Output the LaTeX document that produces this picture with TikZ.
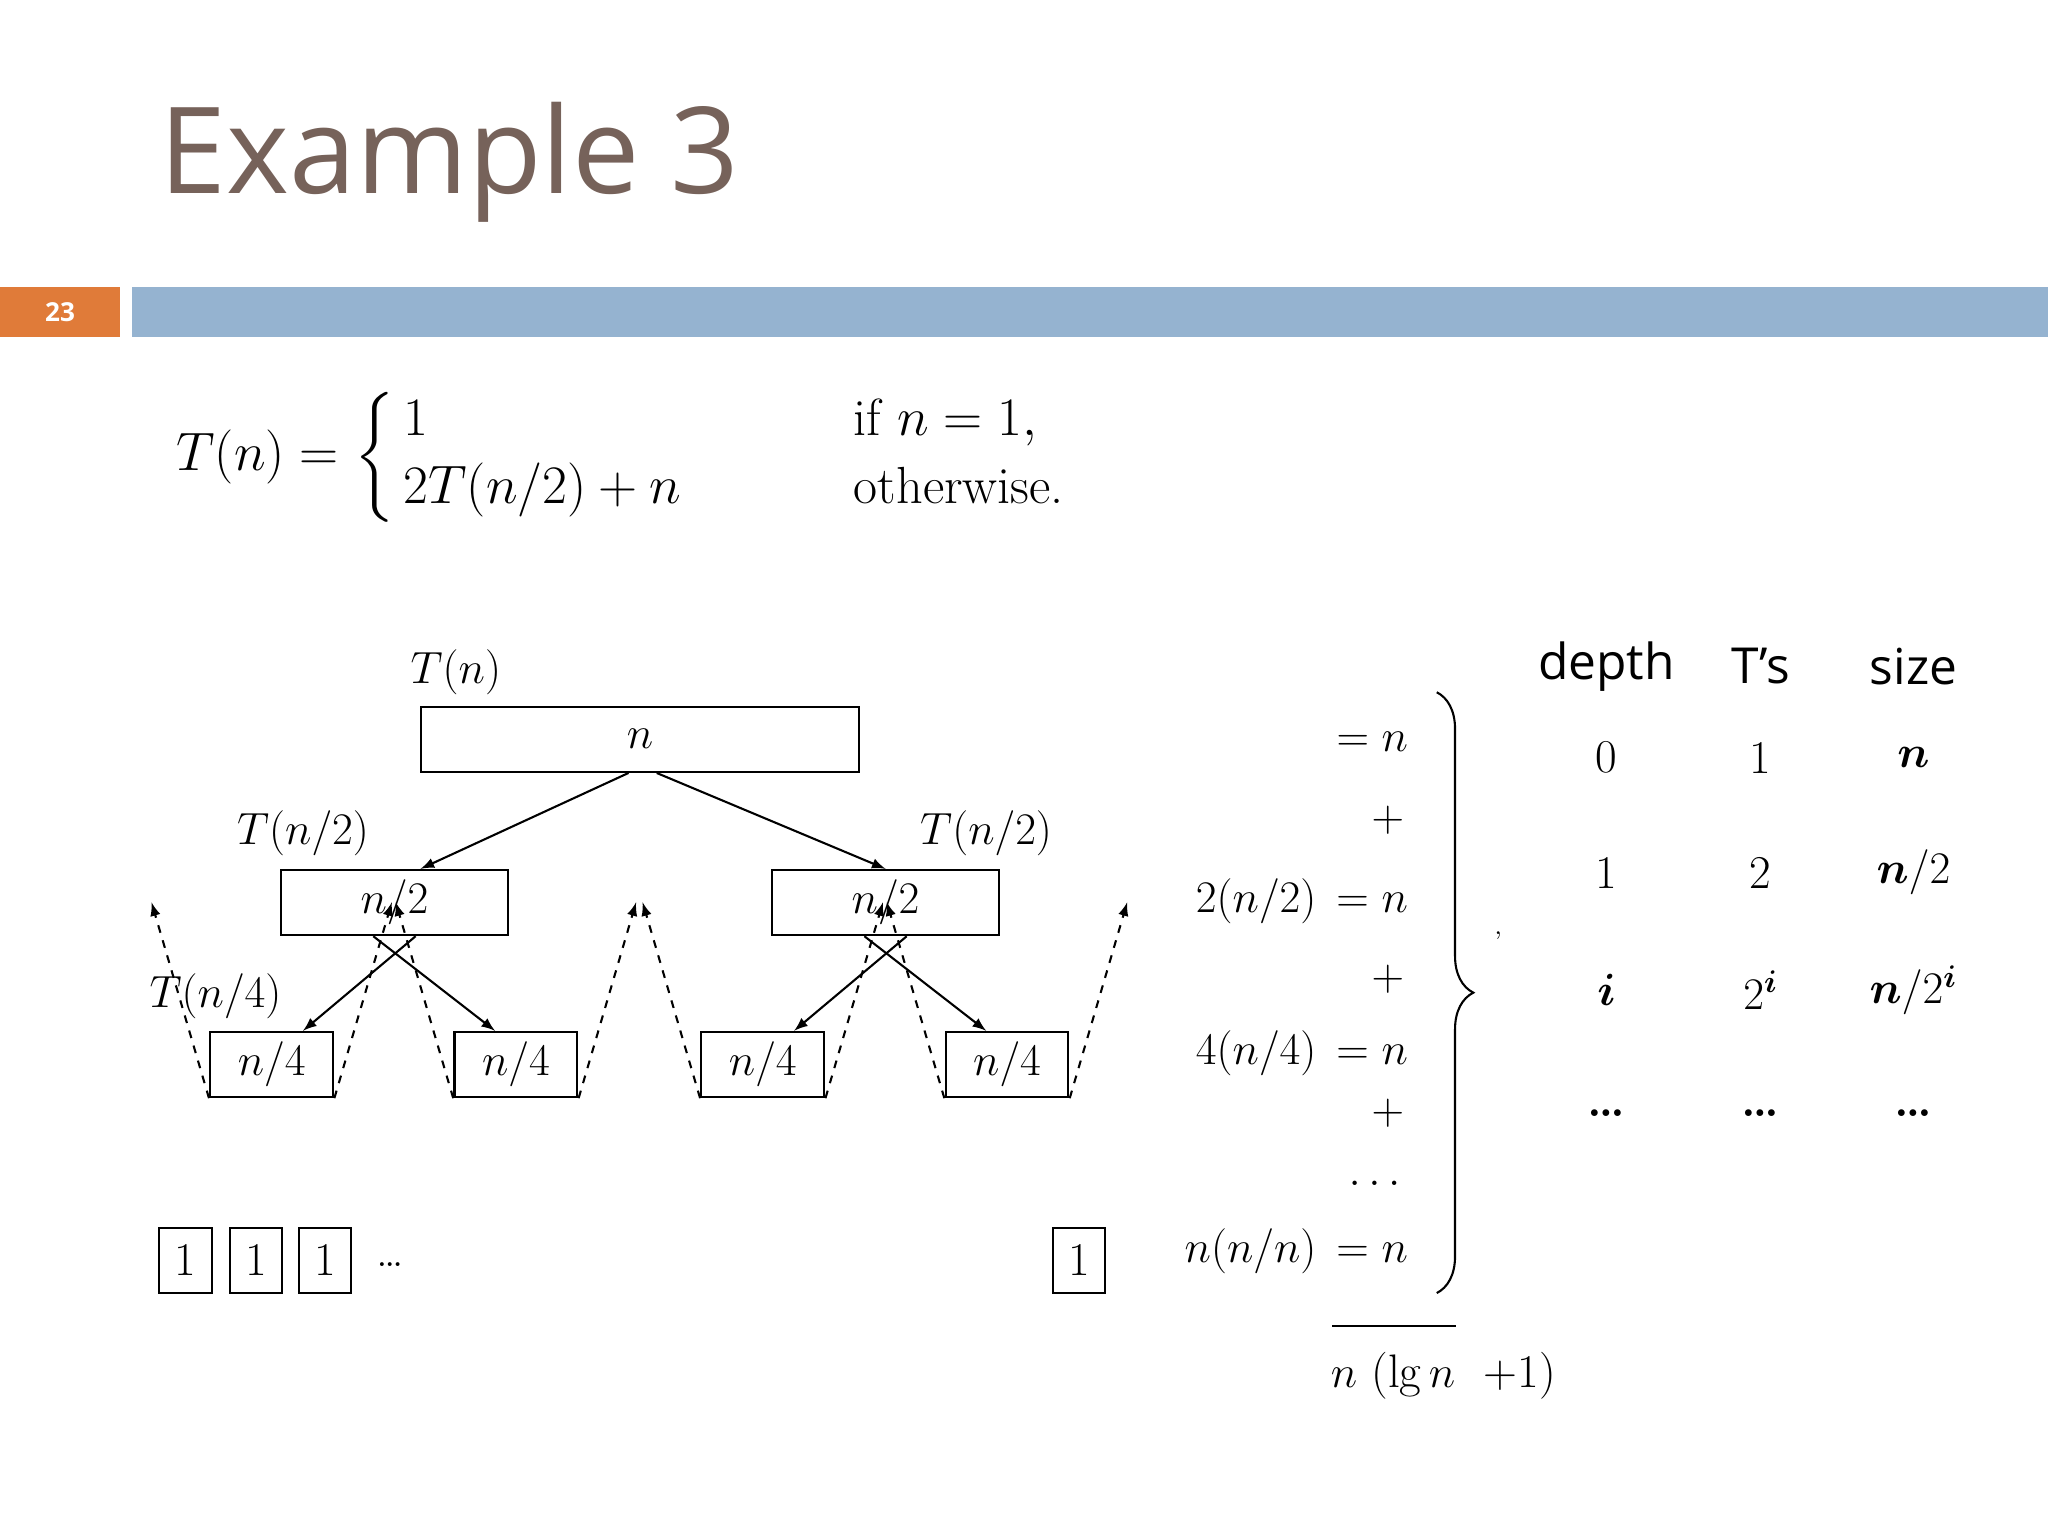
\documentclass[tikz,border=0pt]{standalone}
\usepackage{amsmath,bm}
\usepackage{fontspec}
\newfontfamily\titlefont{Open Sans}
\usetikzlibrary{decorations.pathreplacing}
\definecolor{titlebrown}{HTML}{76625A}
\definecolor{barblue}{HTML}{95B3D0}
\definecolor{numorange}{HTML}{E07B39}
\begin{document}
\begin{tikzpicture}[x=0.5pt,y=-0.5pt,
  bx/.style={draw,thick,inner sep=0pt,font=\fontsize{18}{20}\selectfont},
  arr/.style={-latex,thick},
  darr/.style={-latex,thick,dashed},
  lbl/.style={font=\fontsize{18}{20}\selectfont},
  tab/.style={font=\fontsize{18}{20}\selectfont},
  hd/.style={font=\titlefont\fontsize{19}{22}\selectfont}]
\useasboundingbox (0,0) rectangle (1568,1176);
\node[anchor=base west,text=titlebrown,font=\titlefont\fontsize{46}{50}\selectfont,inner sep=0] (title) at (122,148) {Example 3};
\fill[numorange] (0,220) rectangle (92,258);
\node[text=white,font=\titlefont\bfseries\fontsize{10}{12}\selectfont] (num) at (46,239) {23};
\fill[barblue] (101,220) rectangle (1568,258);
\node[anchor=west,font=\fontsize{20}{24}\selectfont] (eq) at (128,350)
 {$T(n)=\left\{\begin{array}{@{\,}l@{\hspace{66pt}}l}1 & \mbox{if } n=1,\\[2pt] 2T(n/2)+n & \mbox{otherwise.}\end{array}\right.$};
% tree
\node[bx,minimum width=168pt,minimum height=25pt] (r) at (490,566) {$n$};
\node[bx,minimum width=87pt,minimum height=25pt] (a) at (302,691) {$n/2$};
\node[bx,minimum width=87pt,minimum height=25pt] (b) at (678,691) {$n/2$};
\node[bx,minimum width=47pt,minimum height=25pt] (c1) at (208,815) {$n/4$};
\node[bx,minimum width=47pt,minimum height=25pt] (c2) at (395,815) {$n/4$};
\node[bx,minimum width=47pt,minimum height=25pt] (c3) at (584,815) {$n/4$};
\node[bx,minimum width=47pt,minimum height=25pt] (c4) at (771,815) {$n/4$};
\node[lbl] (tn) at (349,515) {$T(n)$};
\node[lbl] (t21) at (232,638) {$T(n/2)$};
\node[lbl] (t22) at (755,638) {$T(n/2)$};
\node[lbl] (t4) at (165,763) {$T(n/4)$};
\draw[arr] ([xshift=80]r.south west) -- ([xshift=10]a.north);
\draw[arr] ([xshift=-78]r.south east) -- (b.north);
\draw[arr] ([xshift=52]a.south west) -- ([xshift=12]c1.north);
\draw[arr] ([xshift=-52]a.south east) -- ([xshift=-8]c2.north);
\draw[arr] ([xshift=52]b.south west) -- ([xshift=12]c3.north);
\draw[arr] ([xshift=-52]b.south east) -- ([xshift=-8]c4.north);
\foreach \c in {c1,c2,c3,c4}{
  \coordinate (\c l) at ([xshift=-46,yshift=75]\c.south);
  \coordinate (\c r) at ([xshift=46,yshift=75]\c.south);
  \draw[darr] ([xshift=-24]\c.south) -- (\c l);
  \draw[darr] ([xshift=24]\c.south) -- (\c r);
}
\node[bx,minimum width=20pt,minimum height=25pt] (o1) at (142,965) {1};
\node[bx,minimum width=20pt,minimum height=25pt] (o2) at (196,965) {1};
\node[bx,minimum width=20pt,minimum height=25pt] (o3) at (249,965) {1};
\node[lbl] (od) at (299,968) {\dots};
\node[bx,minimum width=20pt,minimum height=25pt] (o4) at (826,965) {1};
% sums
\node[lbl,anchor=east] (s1) at (1085,568) {$=n$};
\node[lbl,anchor=east] (p1) at (1082,628) {$+$};
\node[lbl,anchor=east] (s2) at (1085,690) {$2(n/2)\,=n$};
\node[lbl,anchor=east] (p2) at (1082,750) {$+$};
\node[lbl,anchor=east] (s3) at (1085,806) {$4(n/4)\,=n$};
\node[lbl,anchor=east] (p3) at (1082,852) {$+$};
\node[lbl,anchor=east] (d3) at (1085,906) {$\dots$};
\node[lbl,anchor=east] (s4) at (1085,958) {$n(n/n)\,=n$};
\draw[thick,decorate,decoration={brace,amplitude=14pt}] (1100,530) -- (1100,990);
\node[font=\fontsize{10}{10}\selectfont] (tick) at (1147,716) {,};
\coordinate (ul) at (1020,1015); \coordinate (ur) at (1115,1015);
\draw[thick] (ul) -- (ur);
\node[lbl] (tot) at (1105,1053) {$n$ (lg$\,n$ \ +1)};
% table
\node[hd] (h1) at (1230,510) {depth};
\node[hd] (h2) at (1348,510) {T’s};
\node[hd] (h3) at (1465,510) {size};
\node[tab] at (1230,580) {0}; \node[tab] at (1348,580) {1}; \node[tab] at (1465,580) {$\bm{n}$};
\node[tab] at (1230,668) {1}; \node[tab] at (1348,668) {2}; \node[tab] at (1465,668) {$\bm{n}/2$};
\node[tab] at (1230,758) {$\bm{i}$}; \node[tab] at (1348,758) {$2^{\bm{i}}$}; \node[tab] at (1465,758) {$\bm{n}/2^{\bm{i}}$};
\node[tab] at (1230,852) {\textbf{\dots}}; \node[tab] at (1348,852) {\textbf{\dots}}; \node[tab] at (1465,852) {\textbf{\dots}};
\end{tikzpicture}
\end{document}
